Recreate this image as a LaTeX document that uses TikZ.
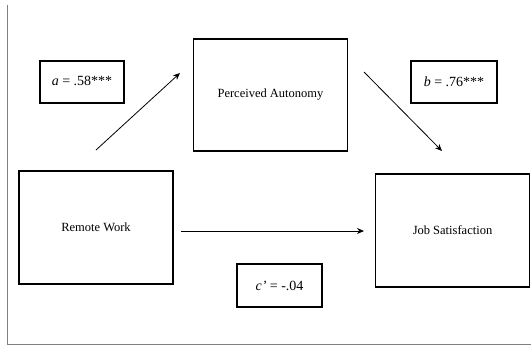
\documentclass[tikz,border=0pt]{standalone}
\usepackage{fontspec}
\setmainfont{Liberation Serif}
\usetikzlibrary{arrows.meta}

\begin{document}
\begin{tikzpicture}[->,>={Stealth[length=7pt, width=6pt]}, x=1pt, y=-1pt,
  box/.style={rectangle, draw=black, line width=1.2pt, inner sep=0pt},
  varbox/.style={box, minimum width=154pt, minimum height=112pt, font=\fontsize{12.5}{15}\selectfont},
  coefbox/.style={box, minimum width=85pt, minimum height=42pt, font=\fontsize{14}{16}\selectfont},
  path/.style={line width=0.8pt}]
\useasboundingbox (0,0) rectangle (531,346);
\draw[-, gray, line width=1pt] (7.3,5) -- (7.3,344) -- (531,344);

\node[varbox] (autonomy) at (270.5,95) {Perceived Autonomy};
\node[varbox, minimum height=113pt] (remote) at (96,227.5) {Remote Work};
\node[varbox, minimum height=113pt] (satisfaction) at (452.5,230.5) {Job Satisfaction};

\node[coefbox, minimum width=84pt] (apath) at (82,82) {\raisebox{2pt}{\textit{a} = .58***}};
\node[coefbox, minimum width=86pt] (bpath) at (454,82) {\textit{b} = .76***};
\node[coefbox, minimum height=43pt] (cpath) at (279.5,285.5) {\textit{c'} = -.04};

\coordinate (astart) at (96,150);
\coordinate (aend) at (180,73);
\coordinate (bstart) at (364,72);
\coordinate (bend) at (442,151);
\coordinate (cstart) at (181,231);
\coordinate (cend) at (364,231);

\draw[path] (astart) -- (aend);
\draw[path] (bstart) -- (bend);
\draw[path] (cstart) -- (cend);
\end{tikzpicture}
\end{document}
